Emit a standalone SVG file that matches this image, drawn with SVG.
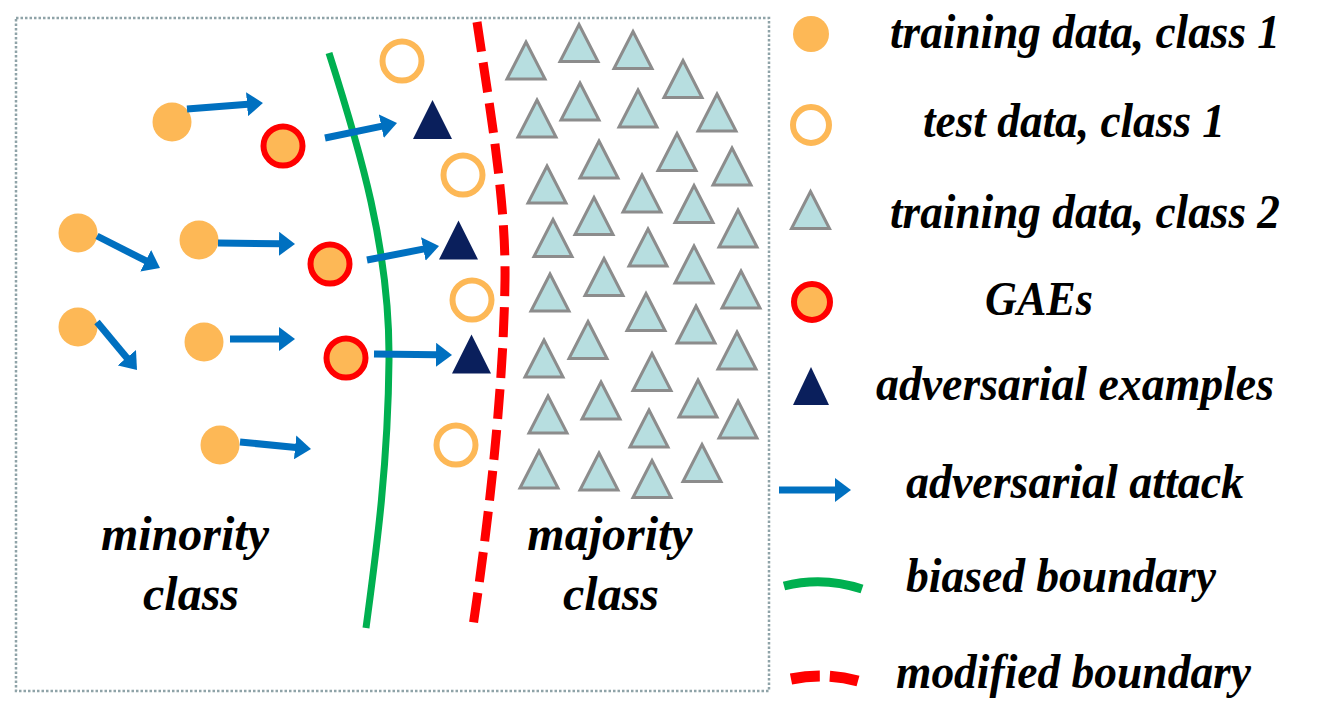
<svg xmlns="http://www.w3.org/2000/svg" xmlns:xlink="http://www.w3.org/1999/xlink" width="1339" height="709" viewBox="0 0 1339 709">
<style>
.lbl{font-family:"Liberation Serif","Times New Roman",serif;font-weight:bold;font-style:italic;font-size:48px;fill:#000;text-anchor:middle}
.leg{font-family:"Liberation Serif","Times New Roman",serif;font-weight:bold;font-style:italic;font-size:48px;fill:#000;text-anchor:start}
.train{fill:#FDB856}
.test{fill:none;stroke:#FDB856;stroke-width:6}
.gae{fill:#FDB856;stroke:#FF0000;stroke-width:6}
.tri2{fill:#B7DEE0;stroke:#8C8C8C;stroke-width:3;stroke-linejoin:miter}
.adv{fill:#0A1F5C}
.atk{stroke:#0070C0;stroke-width:7;fill:none;marker-end:url(#ah)}
.green{fill:none;stroke:#00B050;stroke-width:7}
.red{fill:none;stroke:#FF0000;stroke-width:9;stroke-dasharray:30 11}
</style>
<defs>
<marker id="ah" markerUnits="userSpaceOnUse" markerWidth="16" markerHeight="24" refX="1" refY="12" orient="auto" viewBox="0 0 16 24">
<path d="M0,0 L16,12 L0,24 Z" fill="#0070C0"/>
</marker>
<path id="t2" d="M0,-18.5 L19,18.5 L-19,18.5 Z"/>
<path id="ta" d="M0,-19.5 L19.5,19.5 L-19.5,19.5 Z"/>
</defs>
<rect width="1339" height="709" fill="#fff"/>
<rect id="frame" x="16" y="18" width="753" height="673" fill="none" stroke="#8FA3A8" stroke-width="2.5" stroke-dasharray="2.5 2"/>

<g id="boundaries">
<path id="biased-boundary" class="green" d="M329,53 C360,150 390,250 389,360 S375,560 366,628"/>
<path id="modified-boundary" class="red" d="M477,22 C490,110 506,200 505,280 S495,480 472,633"/>
</g>

<g id="training-class1">
<circle class="train" cx="172" cy="122" r="19.5"/>
<circle class="train" cx="78" cy="233" r="19.5"/>
<circle class="train" cx="199" cy="240" r="19.5"/>
<circle class="train" cx="78" cy="327" r="19.5"/>
<circle class="train" cx="204" cy="342" r="19.5"/>
<circle class="train" cx="220" cy="445" r="19.5"/>
</g>

<g id="gaes">
<circle class="gae" cx="283" cy="146" r="19.5"/>
<circle class="gae" cx="330" cy="264" r="19.5"/>
<circle class="gae" cx="346" cy="358" r="19.5"/>
</g>

<g id="test-class1">
<circle class="test" cx="402" cy="61" r="19.5"/>
<circle class="test" cx="463" cy="175" r="19.5"/>
<circle class="test" cx="472" cy="300" r="19.5"/>
<circle class="test" cx="456" cy="445" r="19.5"/>
</g>

<g id="adversarial-examples" class="adv">
<use xlink:href="#ta" href="#ta" x="432.5" y="119.5"/>
<use xlink:href="#ta" href="#ta" x="458.5" y="240"/>
<use xlink:href="#ta" href="#ta" x="471.5" y="354"/>
</g>

<g id="training-class2" class="tri2">
<use href="#t2" x="526" y="60.5"/>
<use href="#t2" x="579" y="43"/>
<use href="#t2" x="633" y="50"/>
<use href="#t2" x="683" y="79"/>
<use href="#t2" x="537" y="118.5"/>
<use href="#t2" x="580" y="101.5"/>
<use href="#t2" x="638" y="108.5"/>
<use href="#t2" x="717" y="112.5"/>
<use href="#t2" x="599" y="159.5"/>
<use href="#t2" x="677" y="152"/>
<use href="#t2" x="732" y="166.5"/>
<use href="#t2" x="547" y="184.5"/>
<use href="#t2" x="594" y="216"/>
<use href="#t2" x="642" y="193.5"/>
<use href="#t2" x="694" y="204"/>
<use href="#t2" x="738" y="228.5"/>
<use href="#t2" x="553" y="238"/>
<use href="#t2" x="648" y="247.5"/>
<use href="#t2" x="694" y="264.5"/>
<use href="#t2" x="604" y="277"/>
<use href="#t2" x="550" y="292.5"/>
<use href="#t2" x="741" y="289.5"/>
<use href="#t2" x="646" y="312"/>
<use href="#t2" x="696" y="324.5"/>
<use href="#t2" x="588" y="340"/>
<use href="#t2" x="737" y="350.5"/>
<use href="#t2" x="544" y="358.5"/>
<use href="#t2" x="652" y="372"/>
<use href="#t2" x="601" y="400.5"/>
<use href="#t2" x="698" y="398.5"/>
<use href="#t2" x="548" y="414.5"/>
<use href="#t2" x="649" y="428.5"/>
<use href="#t2" x="738" y="419.5"/>
<use href="#t2" x="702" y="463"/>
<use href="#t2" x="539" y="469.5"/>
<use href="#t2" x="599" y="471.5"/>
<use href="#t2" x="652" y="479"/>
</g>

<g id="connectors">
<line class="atk" x1="187" y1="109" x2="248" y2="104.2"/>
<line class="atk" x1="325" y1="138" x2="382.3" y2="126.1"/>
<line class="atk" x1="97" y1="236" x2="146.6" y2="261.2"/>
<line class="atk" x1="218" y1="243" x2="280" y2="243.8"/>
<line class="atk" x1="367" y1="260" x2="424.3" y2="248.9"/>
<line class="atk" x1="97" y1="322" x2="127.4" y2="358.5"/>
<line class="atk" x1="230" y1="339" x2="280" y2="339"/>
<line class="atk" x1="374" y1="354" x2="437" y2="354.8"/>
<line class="atk" x1="240" y1="442" x2="296.1" y2="447.5"/>
</g>

<g id="region-labels">
<text class="lbl" x="185" y="550">minority</text>
<text class="lbl" x="191" y="610">class</text>
<text class="lbl" x="610" y="550">majority</text>
<text class="lbl" x="611" y="610">class</text>
</g>

<g id="legend">
<g id="leg-train1"><circle class="train" cx="811" cy="34" r="18"/><text class="leg" x="890" y="48" textLength="390" lengthAdjust="spacingAndGlyphs">training data, class 1</text></g>
<g id="leg-test1"><circle class="test" cx="811" cy="125" r="18"/><text class="leg" x="923" y="137" textLength="302" lengthAdjust="spacingAndGlyphs">test data, class 1</text></g>
<g id="leg-train2"><use class="tri2" href="#t2" x="810.5" y="210"/><text class="leg" x="890" y="228" textLength="390" lengthAdjust="spacingAndGlyphs">training data, class 2</text></g>
<g id="leg-gae"><circle class="gae" cx="812" cy="302" r="18"/><text class="leg" x="985" y="315" textLength="108" lengthAdjust="spacingAndGlyphs">GAEs</text></g>
<g id="leg-adv"><path class="adv" d="M811,367 L829,405 L793,405 Z"/><text class="leg" x="876" y="400" textLength="398" lengthAdjust="spacingAndGlyphs">adversarial examples</text></g>
<g id="leg-attack"><line class="atk" x1="779" y1="490" x2="836" y2="490"/><text class="leg" x="906" y="498" textLength="338" lengthAdjust="spacingAndGlyphs">adversarial attack</text></g>
<g id="leg-biased"><path d="M784,586 Q823,576 862,589" fill="none" stroke="#00B050" stroke-width="9"/><text class="leg" x="906" y="592" textLength="310" lengthAdjust="spacingAndGlyphs">biased boundary</text></g>
<g id="leg-modified"><path d="M791,679 Q825,672 858,681" fill="none" stroke="#FF0000" stroke-width="11" stroke-dasharray="29 10"/><text class="leg" x="896" y="688" textLength="355" lengthAdjust="spacingAndGlyphs">modified boundary</text></g>
</g>
</svg>
